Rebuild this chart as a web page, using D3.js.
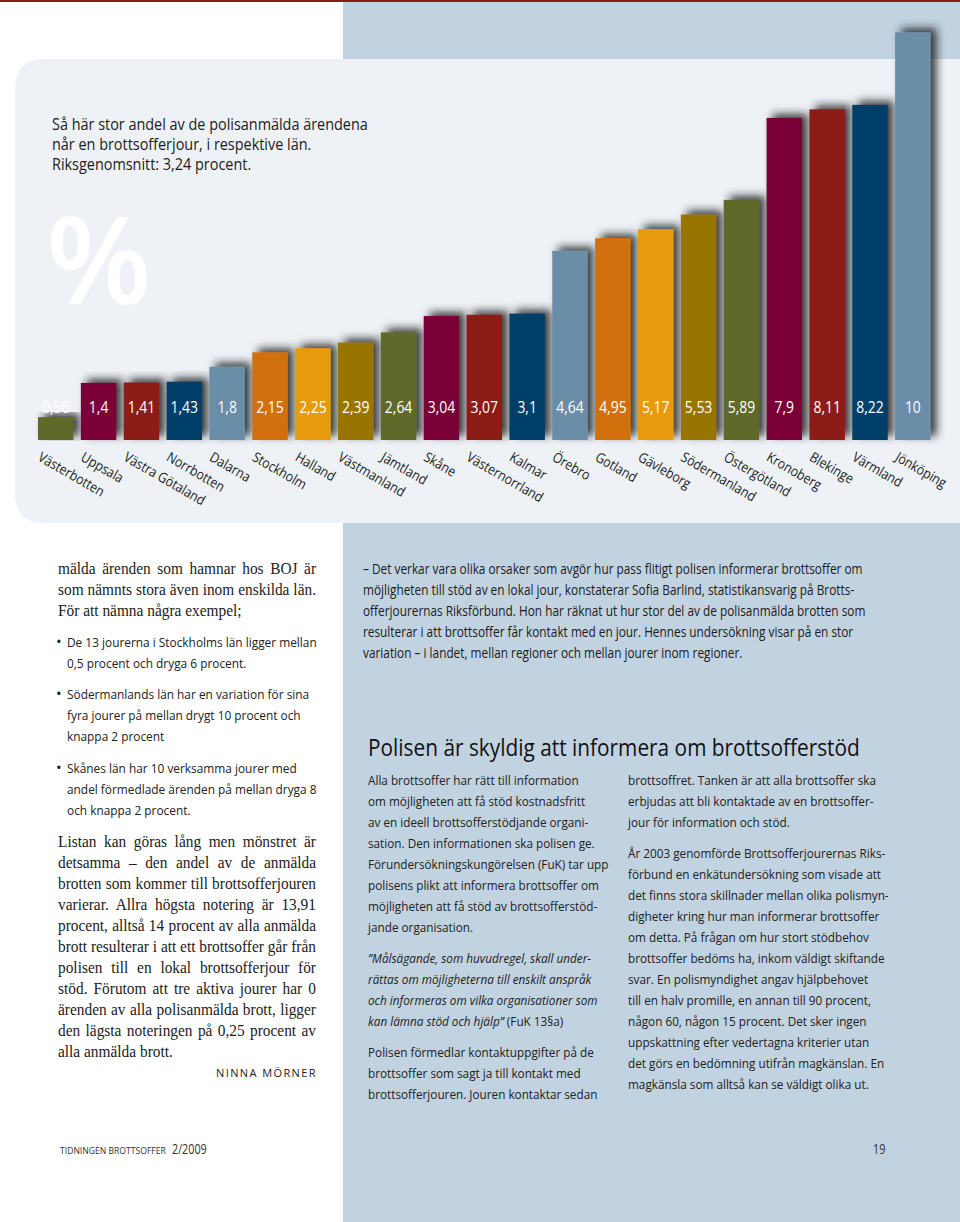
<!DOCTYPE html>
<html><head><meta charset="utf-8">
<script src="https://cdn.jsdelivr.net/npm/d3@7"></script>
<style>body{margin:0;background:#fff}svg{display:block}</style>
</head><body>
<svg id="c" width="960" height="1222"></svg>
<script>
// ---------- DATA ----------
const categories = ["Västerbotten","Uppsala","Västra Götaland","Norrbotten","Dalarna","Stockholm","Halland","Västmanland","Jämtland","Skåne","Västernorrland","Kalmar","Örebro","Gotland","Gävleborg","Södermanland","Östergötland","Kronoberg","Blekinge","Värmland","Jönköping"];
const values = [0.56,1.4,1.41,1.43,1.8,2.15,2.25,2.39,2.64,3.04,3.07,3.1,4.64,4.95,5.17,5.53,5.89,7.9,8.11,8.22,10];
const palette = ["#5e6a2b","#7b0039","#8c1a14","#003f68","#6b8da8","#d2700b","#e89a0c","#977500"];

const titleLines = ["Så här stor andel av de polisanmälda ärendena","når en brottsofferjour, i respektive län.","Riksgenomsnitt: 3,24 procent."];
const leftPara1 = ["mälda ärenden som hamnar hos BOJ är","som nämnts stora även inom enskilda län.","För att nämna några exempel;"];
const bullets = [
  ["De 13 jourerna i Stockholms län ligger mellan","0,5 procent och dryga 6 procent."],
  ["Södermanlands län har en variation för sina","fyra jourer på mellan drygt 10 procent och","knappa 2 procent"],
  ["Skånes län har 10 verksamma jourer med","andel förmedlade ärenden på mellan dryga 8","och knappa 2 procent."]
];
const leftPara2 = ["Listan kan göras lång men mönstret är","detsamma – den andel av de anmälda","brotten som kommer till brottsofferjouren","varierar. Allra högsta notering är 13,91","procent, alltså 14 procent av alla anmälda","brott resulterar i att ett brottsoffer går från","polisen till en lokal brottsofferjour för","stöd. Förutom att tre aktiva jourer har 0","ärenden av alla polisanmälda brott, ligger","den lägsta noteringen på 0,25 procent av","alla anmälda brott."];
const byline = "NINNA MÖRNER";
const quoteLines = ["– Det verkar vara olika orsaker som avgör hur pass flitigt polisen informerar brottsoffer om","möjligheten till stöd av en lokal jour, konstaterar Sofia Barlind, statistikansvarig på Brotts-","offerjourernas Riksförbund. Hon har räknat ut hur stor del av de polisanmälda brotten som","resulterar i att brottsoffer får kontakt med en jour. Hennes undersökning visar på en stor","variation – i landet, mellan regioner och mellan jourer inom regioner."];
const heading = "Polisen är skyldig att informera om brottsofferstöd";
const col1 = [
  ["Alla brottsoffer har rätt till information","om möjligheten att få stöd kostnadsfritt","av en ideell brottsofferstödjande organi-","sation. Den informationen ska polisen ge.","Förundersökningskungörelsen (FuK) tar upp","polisens plikt att informera brottsoffer om","möjligheten att få stöd av brottsofferstöd-","jande organisation."],
  ["”Målsägande, som huvudregel, skall under-","rättas om möjligheterna till enskilt anspråk","och informeras om vilka organisationer som","kan lämna stöd och hjälp”| (FuK 13§a)"],
  ["Polisen förmedlar kontaktuppgifter på de","brottsoffer som sagt ja till kontakt med","brottsofferjouren. Jouren kontaktar sedan"]
];
const col2 = [
  ["brottsoffret. Tanken är att alla brottsoffer ska","erbjudas att bli kontaktade av en brottsoffer-","jour för information och stöd."],
  ["År 2003 genomförde Brottsofferjourernas Riks-","förbund en enkätundersökning som visade att","det finns stora skillnader mellan olika polismyn-","digheter kring hur man informerar brottsoffer","om detta. På frågan om hur stort stödbehov","brottsoffer bedöms ha, inkom väldigt skiftande","svar. En polismyndighet angav hjälpbehovet","till en halv promille, en annan till 90 procent,","någon 60, någon 15 procent. Det sker ingen","uppskattning efter  vedertagna kriterier utan","det görs en bedömning utifrån magkänslan. En","magkänsla som alltså kan se väldigt olika ut."]
];
const footerLeft = "TIDNINGEN BROTTSOFFER";
const footerIssue = "2/2009";
const pageNumber = "19";

// ---------- SETUP ----------
const svg = d3.select("#c");
const SANS = "'Open Sans', 'Noto Sans', sans-serif";
const SERIF = "'Liberation Serif', 'DejaVu Serif', serif";
const BLUE = "#c1d2e0", PANEL = "#eef2f6", INK = "#1b1b1b";

const defs = svg.append("defs");
const f = defs.append("filter").attr("id","sh").attr("x","-40%").attr("y","-20%").attr("width","200%").attr("height","140%");
f.append("feGaussianBlur").attr("in","SourceAlpha").attr("stdDeviation",4);
f.append("feOffset").attr("dx",6).attr("dy",-4).attr("result","o");
f.append("feFlood").attr("flood-color","#1c1c1c").attr("flood-opacity",0.85);
f.append("feComposite").attr("in2","o").attr("operator","in");
const fm = f.append("feMerge"); fm.append("feMergeNode"); fm.append("feMergeNode").attr("in","SourceGraphic");

// backgrounds
svg.append("rect").attr("x",343).attr("y",0).attr("width",617).attr("height",60).attr("fill",BLUE);
svg.append("rect").attr("x",343).attr("y",520).attr("width",617).attr("height",702).attr("fill",BLUE);
svg.append("path").attr("fill",PANEL)
  .attr("d","M15,89 Q15,59 45,59 L960,59 L960,523 L45,523 Q15,523 15,493 Z");
svg.append("rect").attr("x",0).attr("y",0).attr("width",960).attr("height",2).attr("fill","#8b1c1c");

// helper: measure width
function measure(txt, font, size, weight) {
  const t = svg.append("text").attr("font-family",font).attr("font-size",size).attr("font-weight",weight||400).text(txt);
  const w = t.node().getComputedTextLength(); t.remove(); return w;
}

// title
(function(){
  const sx = 316 / measure(titleLines[0], SANS, 16);
  const g = svg.append("g").attr("transform",`translate(52,0) scale(${sx},1)`);
  titleLines.forEach((l,i)=> g.append("text").attr("y",130+i*20).attr("font-family",SANS).attr("font-size",16).attr("fill",INK).text(l));
})();
svg.append("text").attr("x",46).attr("y",304).attr("font-family",SANS).attr("font-size",122).attr("font-weight",600).attr("fill","#fff").text("%");

// ---------- CHART ----------
const x = d3.scaleBand().domain(categories).range([34.3, 934.3]).paddingInner(0.172).paddingOuter(0.086);
const y = d3.scaleLinear().domain([0,10]).range([440, 32.3]);
const color = d3.scaleOrdinal().domain(d3.range(palette.length)).range(palette);
const fmt = d3.formatLocale({decimal:",",thousands:" ",grouping:[3],currency:["","kr"]}).format("~g");
const data = categories.map((c,i)=>({c, v:values[i], i}));

svg.append("g").selectAll("rect").data(data).join("rect")
  .attr("x",d=>x(d.c)).attr("y",d=>y(d.v)).attr("width",x.bandwidth()).attr("height",d=>y(0)-y(d.v))
  .attr("fill",d=>color(d.i % palette.length)).attr("filter","url(#sh)");

const vsx = 27.5 / measure("2,15", SANS, 15.5);
svg.append("g").selectAll("text").data(data).join("text")
  .attr("transform",d=>`translate(${x(d.c)+x.bandwidth()/2},412.5) scale(${vsx},1)`)
  .attr("text-anchor","middle").attr("font-family",SANS).attr("font-size",15.5).attr("fill","#fff")
  .text(d=>fmt(d.v));

const csx = 74 / measure("Västerbotten", SANS, 14);
svg.append("g").selectAll("text").data(data).join("text")
  .attr("transform",d=>`translate(${x(d.c)-1},460) rotate(30) scale(${csx},1)`)
  .attr("font-family",SANS).attr("font-size",14).attr("fill",INK).text(d=>d.c);

// ---------- LEFT COLUMN ----------
function serifPara(lines, y0, fontSize, sx, width) {
  const g = svg.append("g").attr("transform",`translate(58,0) scale(${sx},1)`);
  lines.forEach((l,i)=>{
    const t = g.append("text").attr("y",y0+i*21).attr("font-family",SERIF).attr("font-size",fontSize).attr("fill",INK).text(l);
    if (i < lines.length-1) {
      const w = t.node().getComputedTextLength();
      const n = (l.match(/ /g)||[]).length;
      if (n) t.attr("word-spacing", (width/sx - w)/n);
    }
  });
}
const serifSize = 16;
const maxSerif = d3.max(leftPara2.slice(0,-1).concat(leftPara1.slice(0,-1)), l => measure(l, SERIF, serifSize));
const ssx = Math.min(1, 258 / maxSerif);
serifPara(leftPara1, 574, serifSize, ssx, 258);
serifPara(leftPara2, 847, serifSize, ssx, 258);

(function(){
  const sx = 250 / measure(bullets[0][0], SANS, 13);
  const starts = [647, 699, 773];
  bullets.forEach((b,bi)=>{
    svg.append("text").attr("x",56).attr("y",starts[bi]).attr("font-family",SANS).attr("font-size",15).attr("fill",INK).text("•");
    const g = svg.append("g").attr("transform",`translate(67,0) scale(${sx},1)`);
    b.forEach((l,i)=> g.append("text").attr("y",starts[bi]+i*21).attr("font-family",SANS).attr("font-size",13).attr("fill","#222").text(l));
  });
})();
svg.append("text").attr("x",317).attr("y",1077).attr("text-anchor","end").attr("font-family",SANS).attr("font-size",11)
  .attr("letter-spacing",1.4).attr("fill","#222").text(byline);

// ---------- RIGHT ----------
(function(){
  const sx = 500 / measure(quoteLines[0], SANS, 15);
  const g = svg.append("g").attr("transform",`translate(363,0) scale(${sx},1)`);
  quoteLines.forEach((l,i)=> g.append("text").attr("y",574+i*21).attr("font-family",SANS).attr("font-size",15).attr("fill",INK).text(l));
})();
(function(){
  const sx = 492 / measure(heading, SANS, 23);
  svg.append("text").attr("transform",`translate(368,756) scale(${sx},1)`).attr("font-family",SANS).attr("font-size",23).attr("fill","#111").text(heading);
})();

const bodySx = 211 / measure(col1[0][0], SANS, 13);
function column(paras, x0, y0) {
  const g = svg.append("g").attr("transform",`translate(${x0},0) scale(${bodySx},1)`);
  let yy = y0;
  paras.forEach((p,pi)=>{
    p.forEach(l=>{
      const t = g.append("text").attr("y",yy).attr("font-family",SANS).attr("font-size",13).attr("fill","#222");
      if (pi===1 && paras===col1) {
        const parts = l.split("|");
        t.append("tspan").attr("font-style","italic").text(parts[0]);
        if (parts[1]) t.append("tspan").text(parts[1]);
      } else t.text(l);
      yy += 21;
    });
    yy += 10;
  });
}
column(col1, 368, 785);
column(col2, 628, 785);

// footer
(function(){
  const sx = 106 / measure(footerLeft, SANS, 9);
  svg.append("text").attr("transform",`translate(60,1154) scale(${Math.min(1,sx)},1)`).attr("font-family",SANS).attr("font-size",9).attr("fill","#333").text(footerLeft);
})();
svg.append("text").attr("transform","translate(172,1154) scale(0.72,1)").attr("font-family",SANS).attr("font-size",15).attr("fill","#333").text(footerIssue);
svg.append("text").attr("transform","translate(873,1154) scale(0.72,1)").attr("font-family",SANS).attr("font-size",15).attr("fill","#333").text(pageNumber);
</script>
</body></html>
